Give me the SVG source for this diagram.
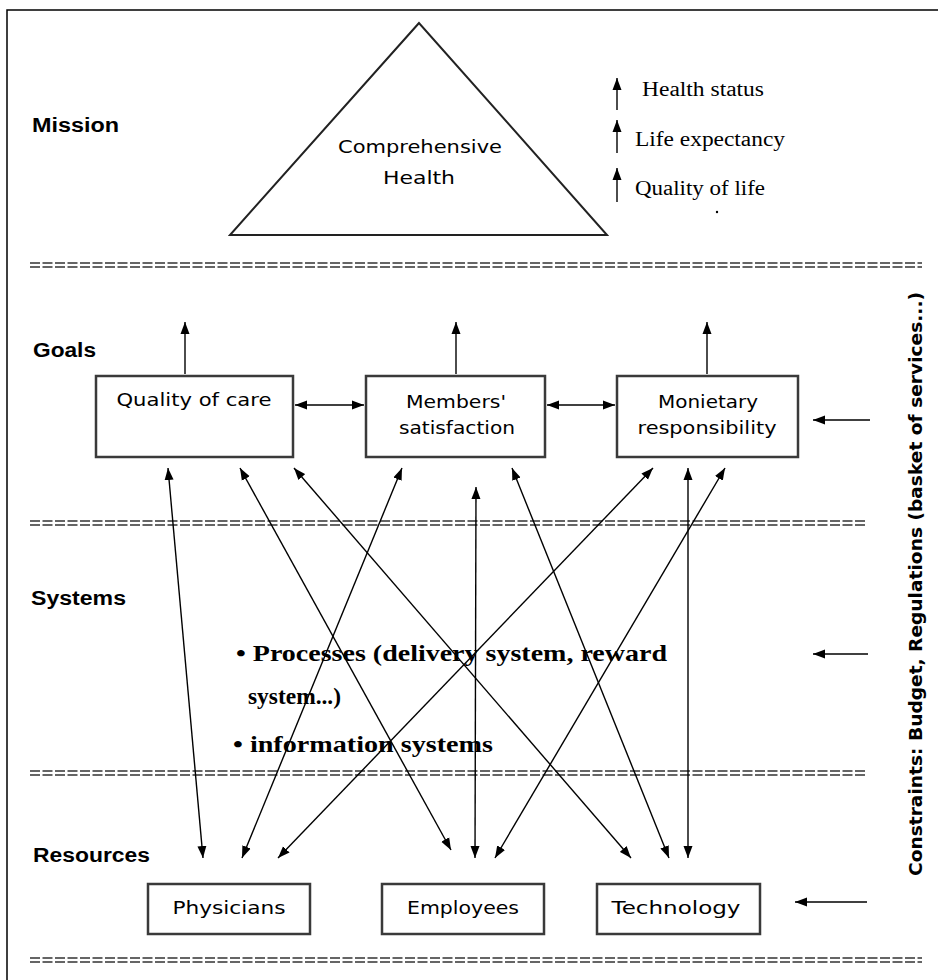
<svg xmlns="http://www.w3.org/2000/svg" width="938" height="980" viewBox="0 0 938 980">
<defs>
<marker id="ah" viewBox="0 0 12 10" refX="12" refY="5" markerWidth="12" markerHeight="10" markerUnits="userSpaceOnUse" orient="auto-start-reverse"><path d="M0,0.5 L12,5 L0,9.5 Z" fill="#000"/></marker>
</defs>
<style>
.lbl{font-family:"Liberation Sans",Arial,sans-serif;font-weight:bold;font-size:20px;fill:#000}
.cs{font-family:"DejaVu Sans",sans-serif;font-size:17px;fill:#000;text-anchor:middle}
.tm{font-family:"Liberation Serif","Times New Roman",serif;font-size:20px;fill:#000}
.tb{font-family:"Liberation Serif","Times New Roman",serif;font-weight:bold;font-size:23px;fill:#000}
.vt{font-family:"DejaVu Sans",sans-serif;font-weight:bold;font-size:18px;fill:#000;text-anchor:middle}
.box{fill:#fff;stroke:#3a3a3a;stroke-width:2.5}
.conn{stroke:#000;stroke-width:1.4;fill:none}
.sep{stroke:#333;stroke-width:1.4;stroke-dasharray:10 2.5;fill:none}
</style>
<rect width="938" height="980" fill="#fff"/>
<path d="M7,980 V10 H938" fill="none" stroke="#000" stroke-width="1.5"/>

<g id="separators">
<path class="sep" d="M30,263 H922 M30,267 H922"/>
<path class="sep" d="M30,521 H866 M30,525 H866"/>
<path class="sep" d="M30,771 H866 M30,775 H866"/>
<path class="sep" d="M30,958 H922 M30,962 H922"/>
</g>

<g id="layer-labels">
<text class="lbl" x="32" y="132" textLength="87" lengthAdjust="spacingAndGlyphs">Mission</text>
<text class="lbl" x="33" y="357" textLength="63" lengthAdjust="spacingAndGlyphs">Goals</text>
<text class="lbl" x="31" y="605" textLength="95" lengthAdjust="spacingAndGlyphs">Systems</text>
<text class="lbl" x="33" y="862" textLength="117" lengthAdjust="spacingAndGlyphs">Resources</text>
</g>

<g id="mission">
<polygon points="419,23 230,235 607,235" fill="none" stroke="#222" stroke-width="2"/>
<text class="cs" x="420" y="153" font-size="18" textLength="164" lengthAdjust="spacingAndGlyphs">Comprehensive</text>
<text class="cs" x="419" y="184" font-size="18" textLength="72" lengthAdjust="spacingAndGlyphs">Health</text>
</g>

<g id="mission-outcomes">
<text class="tm" x="642" y="96" textLength="122" lengthAdjust="spacingAndGlyphs">Health status</text>
<text class="tm" x="635" y="146" textLength="150" lengthAdjust="spacingAndGlyphs">Life expectancy</text>
<text class="tm" x="635" y="195" textLength="130" lengthAdjust="spacingAndGlyphs">Quality of life</text>
<circle cx="717" cy="212" r="1.2" fill="#000"/>
</g>

<g id="goal-quality">
<rect class="box" x="96" y="376" width="197" height="81"/>
<text class="cs" x="194" y="406" textLength="155" lengthAdjust="spacingAndGlyphs">Quality of care</text>
</g>
<g id="goal-members">
<rect class="box" x="366" y="376" width="179" height="81"/>
<text class="cs" x="456" y="408" textLength="100" lengthAdjust="spacingAndGlyphs">Members'</text>
<text class="cs" x="457" y="434" textLength="116" lengthAdjust="spacingAndGlyphs">satisfaction</text>
</g>
<g id="goal-monetary">
<rect class="box" x="617" y="376" width="181" height="81"/>
<text class="cs" x="708" y="408" textLength="100" lengthAdjust="spacingAndGlyphs">Monietary</text>
<text class="cs" x="707" y="434" textLength="139" lengthAdjust="spacingAndGlyphs">responsibility</text>
</g>

<g id="systems">
<text class="tb" x="236" y="661" textLength="431" lengthAdjust="spacingAndGlyphs">• Processes (delivery system, reward</text>
<text class="tb" x="248" y="704" textLength="93" lengthAdjust="spacingAndGlyphs">system...)</text>
<text class="tb" x="233" y="752" textLength="260" lengthAdjust="spacingAndGlyphs">• information systems</text>
</g>

<g id="res-physicians">
<rect class="box" x="148" y="884" width="162" height="50"/>
<text class="cs" x="229" y="914" textLength="113" lengthAdjust="spacingAndGlyphs">Physicians</text>
</g>
<g id="res-employees">
<rect class="box" x="382" y="884" width="162" height="50"/>
<text class="cs" x="463" y="914" textLength="112" lengthAdjust="spacingAndGlyphs">Employees</text>
</g>
<g id="res-technology">
<rect class="box" x="597" y="884" width="163" height="50"/>
<text class="cs" x="676" y="914" textLength="129" lengthAdjust="spacingAndGlyphs">Technology</text>
</g>

<g id="constraints">
<text class="vt" transform="translate(922,584) rotate(-90)" x="0" y="0" textLength="584" lengthAdjust="spacingAndGlyphs">Constraints:  Budget,  Regulations (basket of  services...)</text>
</g>

<g id="connectors">
<line class="conn" x1="617" y1="110" x2="617" y2="78" marker-end="url(#ah)"/>
<line class="conn" x1="617" y1="153" x2="617" y2="120" marker-end="url(#ah)"/>
<line class="conn" x1="617" y1="202" x2="617" y2="168" marker-end="url(#ah)"/>

<line class="conn" x1="185" y1="374" x2="185" y2="322" marker-end="url(#ah)"/>
<line class="conn" x1="456" y1="374" x2="456" y2="322" marker-end="url(#ah)"/>
<line class="conn" x1="707" y1="374" x2="707" y2="322" marker-end="url(#ah)"/>

<line class="conn" x1="295" y1="405" x2="364" y2="405" marker-start="url(#ah)" marker-end="url(#ah)"/>
<line class="conn" x1="547" y1="405" x2="615" y2="405" marker-start="url(#ah)" marker-end="url(#ah)"/>

<line class="conn" x1="168" y1="468" x2="203" y2="858" marker-start="url(#ah)" marker-end="url(#ah)"/>
<line class="conn" x1="240" y1="468" x2="451" y2="850" marker-start="url(#ah)" marker-end="url(#ah)"/>
<line class="conn" x1="294" y1="468" x2="631" y2="858" marker-start="url(#ah)" marker-end="url(#ah)"/>
<line class="conn" x1="402" y1="468" x2="242" y2="858" marker-start="url(#ah)" marker-end="url(#ah)"/>
<line class="conn" x1="476" y1="487" x2="475" y2="858" marker-start="url(#ah)" marker-end="url(#ah)"/>
<line class="conn" x1="512" y1="468" x2="669" y2="858" marker-start="url(#ah)" marker-end="url(#ah)"/>
<line class="conn" x1="653" y1="468" x2="278" y2="858" marker-start="url(#ah)" marker-end="url(#ah)"/>
<line class="conn" x1="688" y1="468" x2="688" y2="858" marker-start="url(#ah)" marker-end="url(#ah)"/>
<line class="conn" x1="725" y1="468" x2="495" y2="858" marker-start="url(#ah)" marker-end="url(#ah)"/>

<line class="conn" x1="870" y1="420" x2="813" y2="420" marker-end="url(#ah)"/>
<line class="conn" x1="868" y1="654" x2="813" y2="654" marker-end="url(#ah)"/>
<line class="conn" x1="867" y1="902" x2="795" y2="902" marker-end="url(#ah)"/>
</g>
</svg>
